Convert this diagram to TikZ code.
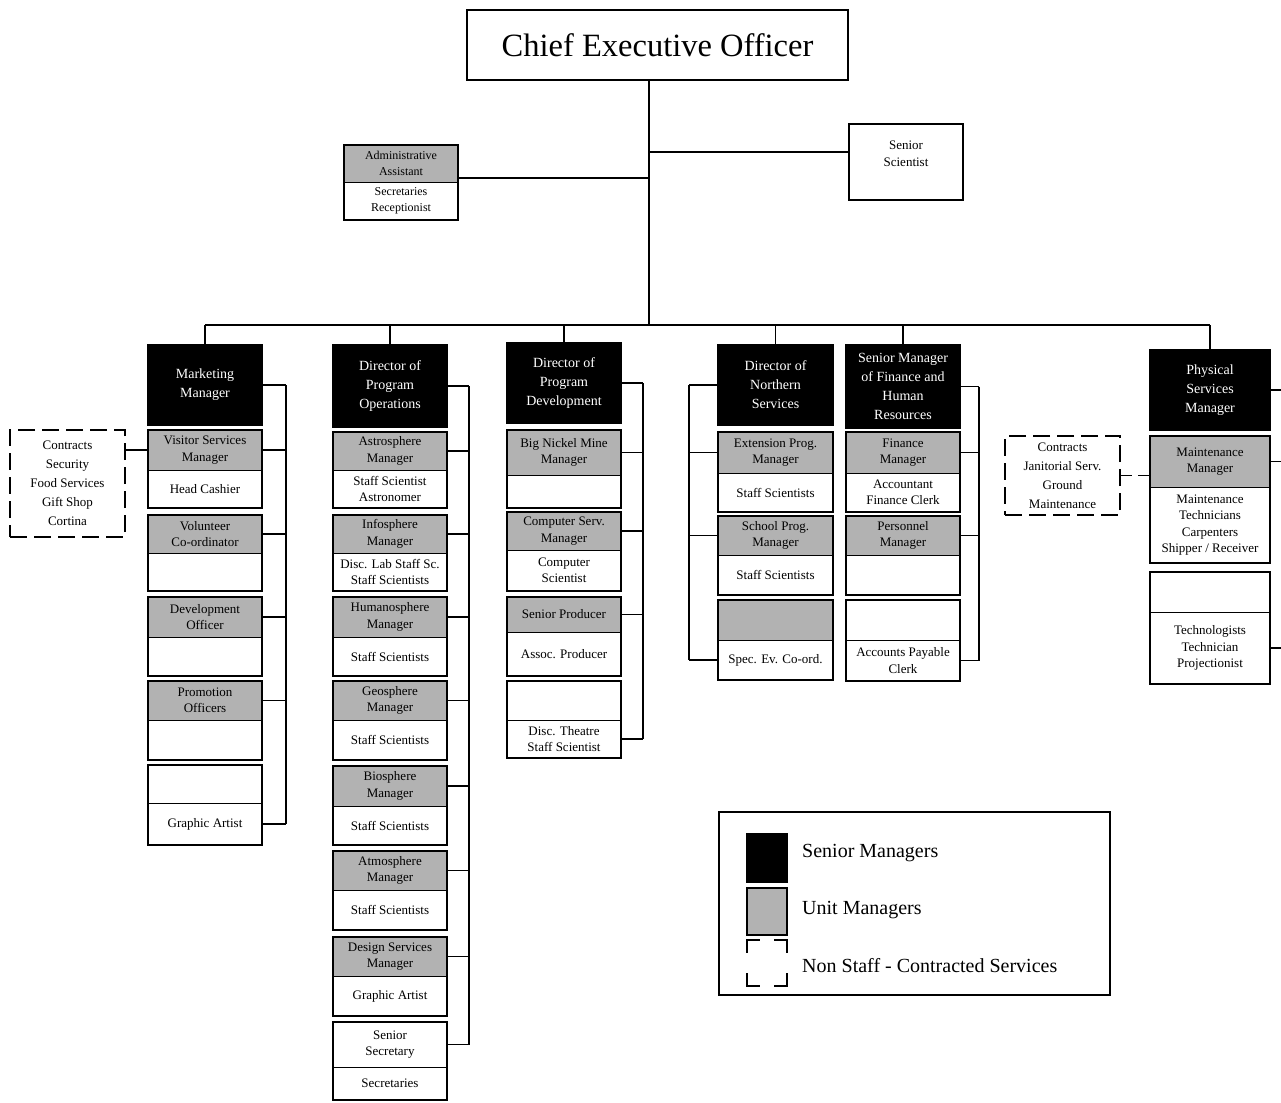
\documentclass[tikz,border=0pt]{standalone}
\usepackage{fontspec}
\setmainfont{Liberation Serif}
\usetikzlibrary{calc}

\tikzset{
  box/.style={rectangle, inner sep=0pt, outer sep=0pt, align=center, draw=black, line width=0.8pt,
              font=\fontsize{13}{16.5}\selectfont},
  senior/.style={box, fill=black, text=white, line width=2pt, font=\fontsize{14}{19}\selectfont},
  unit/.style={box, fill=black!30},
  plain/.style={box, fill=white},
  contract/.style={box, draw=black, line width=1.3pt, dash pattern=on 17pt off 7pt,
                   font=\fontsize{13}{19}\selectfont},
  grp/.style={draw=black, line width=2.4pt},
  conn/.style={draw=black, line width=1.8pt},
  corner/.style={draw=black, line width=1.6pt},
  legtext/.style={anchor=west, inner sep=0pt, font=\fontsize{20}{24}\selectfont}
}

% a single box from (x1,y1) to (x2,y2)
\newcommand{\cell}[7]{%
  \node[#6, minimum width={#4-#2}, minimum height={#5-#3}] (#1) at ({(#2+#4)/2},{(#3+#5)/2}) {#7};}
% a two-part post: heading part over staff part, with a heavy outline
\newcommand{\post}[9]{%
  \cell{#1t}{#2}{#4}{#3}{#5}{#7}{#8}
  \cell{#1b}{#2}{#5}{#3}{#6}{plain}{#9}
  \draw[grp] (#1t.north west) rectangle (#1b.south east);}

\begin{document}
\begin{tikzpicture}[x=1pt, y=-1pt]
\useasboundingbox (0,0) rectangle (1281,1102);

% ---------- top level ----------
\cell{ceo}{467}{10}{848}{80}{plain}{\fontsize{32.5}{36}\selectfont Chief Executive Officer}
\draw[grp] (ceo.north west) rectangle (ceo.south east);

\post{adm}{344}{458}{145}{182}{220}{unit}{\fontsize{12}{14.5}\selectfont Administrative\\\fontsize{12}{14.5}\selectfont Assistant}{\fontsize{12}{14.5}\selectfont Secretaries\\\fontsize{12}{14.5}\selectfont Receptionist}

\cell{sci}{849}{124}{963}{200}{plain}{}
\draw[grp] (sci.north west) rectangle (sci.south east);
\node[align=center, inner sep=0pt, font=\fontsize{13}{16.5}\selectfont] (scit) at ([yshift=8pt]sci.center) {Senior\\Scientist};

\coordinate (trunk) at (649,325);
\coordinate (admy) at (649,178);
\coordinate (sciy) at (649,152);
\draw[conn] (ceo.south -| trunk) -- (trunk);
\draw[conn] (admt.east |- admy) -- (admy);
\draw[conn] (sciy) -- (sci.west |- sciy);

% ---------- column: marketing ----------
\cell{mm}{148}{345}{262}{425}{senior}{Marketing\\Manager}
\post{vs}{148}{262}{430}{470}{508}{unit}{Visitor Services\\Manager}{Head Cashier}
\post{vol}{148}{262}{515}{553}{591}{unit}{Volunteer\\Co-ordinator}{}
\post{dev}{148}{262}{597}{637}{676}{unit}{Development\\Officer}{}
\post{promo}{148}{262}{681}{720}{760}{unit}{Promotion\\Officers}{}
\post{ga}{148}{262}{765}{803}{845}{plain}{}{Graphic Artist}
\cell{conA}{10}{430}{125}{537}{contract}{Contracts\\Security\\Food Services\\Gift Shop\\Cortina}
\coordinate (railA) at (286,0);

% ---------- column: program operations ----------
\cell{po}{333}{345}{447}{427}{senior}{Director of\\Program\\Operations}
\post{astro}{333}{447}{432}{470}{508}{unit}{Astrosphere\\Manager}{Staff Scientist\\Astronomer}
\post{info}{333}{447}{515}{553}{591}{unit}{Infosphere\\Manager}{Disc. Lab Staff Sc.\\Staff Scientists}
\post{human}{333}{447}{597}{637}{676}{unit}{Humanosphere\\Manager}{Staff Scientists}
\post{geo}{333}{447}{681}{720}{760}{unit}{Geosphere\\Manager}{Staff Scientists}
\post{bio}{333}{447}{766}{806}{845}{unit}{Biosphere\\Manager}{Staff Scientists}
\post{atmo}{333}{447}{851}{890}{930}{unit}{Atmosphere\\Manager}{Staff Scientists}
\post{design}{333}{447}{937}{976}{1016}{unit}{Design Services\\Manager}{Graphic Artist}
\post{sec}{333}{447}{1022}{1067}{1100}{plain}{Senior\\Secretary}{Secretaries}
\coordinate (railB) at (469,0);

% ---------- column: program development ----------
\cell{pd}{507}{343}{621}{423}{senior}{Director of\\Program\\Development}
\post{nickel}{507}{621}{430}{475}{508}{unit}{Big Nickel Mine\\Manager}{}
\post{comp}{507}{621}{512}{550}{591}{unit}{Computer Serv.\\Manager}{Computer\\Scientist}
\post{prod}{507}{621}{597}{632}{676}{unit}{Senior Producer}{Assoc. Producer}
\post{theatre}{507}{621}{681}{720}{758}{plain}{}{Disc. Theatre\\Staff Scientist}
\coordinate (railC) at (643,0);

% ---------- column: northern services ----------
\cell{ns}{718}{345}{833}{425}{senior}{Director of\\Northern\\Services}
\post{ext}{718}{833}{432}{473}{512}{unit}{Extension Prog.\\Manager}{Staff Scientists}
\post{school}{718}{833}{516}{555}{595}{unit}{School Prog.\\Manager}{Staff Scientists}
\post{spec}{718}{833}{600}{640}{680}{unit}{}{Spec. Ev. Co-ord.}
\coordinate (railD) at (689,0);

% ---------- column: finance and human resources ----------
\cell{fin}{846}{345}{960}{428}{senior}{\fontsize{14}{17.5}\selectfont Senior Manager\\\fontsize{14}{17.5}\selectfont of Finance and\\\fontsize{14}{17.5}\selectfont Human\\\fontsize{14}{17.5}\selectfont Resources}
\post{finm}{846}{960}{432}{473}{512}{unit}{Finance\\Manager}{Accountant\\Finance Clerk}
\post{pers}{846}{960}{516}{555}{595}{unit}{Personnel\\Manager}{}
\post{ap}{846}{960}{600}{640}{681}{plain}{}{Accounts Payable\\Clerk}
\coordinate (railE) at (979,0);

% ---------- column: physical services ----------
\cell{ps}{1150}{350}{1270}{430}{senior}{Physical\\Services\\Manager}
\post{maint}{1150}{1270}{436}{487}{563}{unit}{Maintenance\\Manager}{Maintenance\\Technicians\\Carpenters\\Shipper / Receiver}
\post{tech}{1150}{1270}{572}{612}{684}{plain}{}{Technologists\\Technician\\Projectionist}
\cell{conF}{1005}{436}{1120}{515}{contract}{Contracts\\Janitorial Serv.\\Ground\\Maintenance}
\coordinate (railF) at (1281,0);

% ---------- main bus ----------
\draw[conn] (mm.north |- trunk) -- (ps.north |- trunk);
\foreach \d in {mm,po,pd,ns,fin,ps} \draw[conn] (\d.north |- trunk) -- (\d.north);

% ---------- reporting rails ----------
\draw[conn] (mm.east -| railA) -- (gab.east -| railA);
\foreach \n in {mm,vst,volt,devt,promot,gab} \draw[conn] (\n.east) -- (\n.east -| railA);

\draw[conn] (po.east -| railB) -- (sect.east -| railB);
\foreach \n in {po,astrot,infot,humant,geot,biot,atmot,designt,sect} \draw[conn] (\n.east) -- (\n.east -| railB);

\draw[conn] (pd.east -| railC) -- (theatreb.east -| railC);
\foreach \n in {pd,nickelt,compt,prodt,theatreb} \draw[conn] (\n.east) -- (\n.east -| railC);

\draw[conn] (ns.west -| railD) -- (specb.west -| railD);
\foreach \n in {ns,extt,schoolt,specb} \draw[conn] (\n.west) -- (\n.west -| railD);

\draw[conn] (fin.east -| railE) -- (apb.east -| railE);
\foreach \n in {fin,finmt,perst,apb} \draw[conn] (\n.east) -- (\n.east -| railE);

\foreach \n in {ps,maintt,techb} \draw[conn] (\n.east) -- (\n.east -| railF);

% contracted services
\draw[conn] (conA.east |- vst.west) -- (vst.west);
\draw[conn, dash pattern=on 12pt off 6pt] (conF.east) -- (conF.east -| maintt.west);

% ---------- legend ----------
\node[draw=black, line width=1.3pt, minimum width=391, minimum height=183, inner sep=0pt] (legend) at (914.5,903.5) {};
\cell{lgS}{747}{834}{787}{882}{senior}{}
\cell{lgU}{747}{888}{787}{935}{unit}{}
\draw[line width=2pt] (lgU.north west) rectangle (lgU.south east);
\node[minimum width=40, minimum height=46, inner sep=0pt] (lgC) at (767,963) {};
% corner marks of the contracted-services key
\draw[corner] ([yshift=-13pt]lgC.north west) -- (lgC.north west) -- ([xshift=13pt]lgC.north west);
\draw[corner] ([xshift=-13pt]lgC.north east) -- (lgC.north east) -- ([yshift=-13pt]lgC.north east);
\draw[corner] ([yshift=13pt]lgC.south west) -- (lgC.south west) -- ([xshift=13pt]lgC.south west);
\draw[corner] ([xshift=-13pt]lgC.south east) -- (lgC.south east) -- ([yshift=13pt]lgC.south east);
\node[legtext] (tS) at (802,853) {Senior Managers};
\node[legtext] (tU) at (802,910) {Unit Managers};
\node[legtext] (tC) at (802,966) {Non Staff - Contracted Services};
\end{tikzpicture}
\end{document}
